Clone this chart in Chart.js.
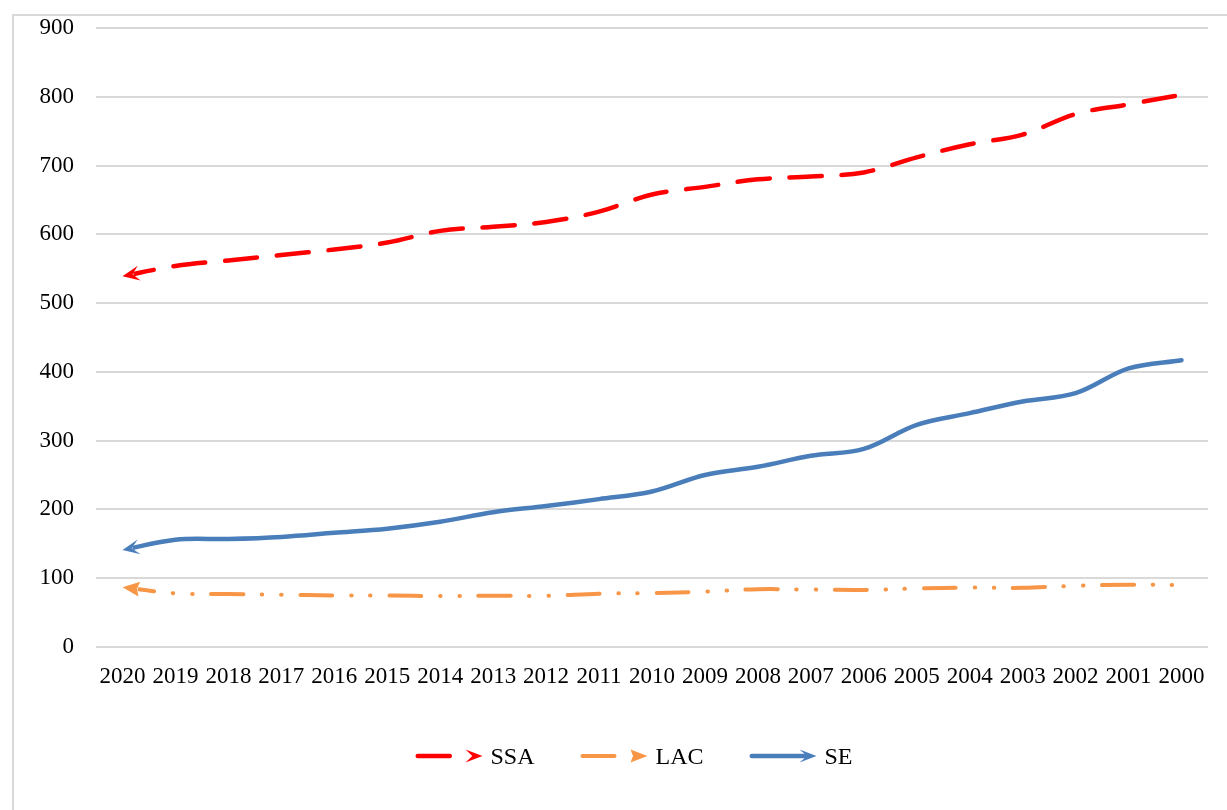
<!DOCTYPE html>
<html>
<head>
<meta charset="utf-8">
<script src="https://cdn.jsdelivr.net/npm/chart.js@4"></script>
<style>
  html, body { margin: 0; padding: 0; background: #ffffff; }
  #wrap { width: 1227px; height: 810px; position: relative; }
</style>
</head>
<body>
<div id="wrap"><canvas id="chart"></canvas></div>
<script>
// Years run from most recent to oldest, left to right
const years = ['2020','2019','2018','2017','2016','2015','2014','2013','2012','2011',
               '2010','2009','2008','2007','2006','2005','2004','2003','2002','2001','2000'];

const ssaValues = [539, 554, 562, 570, 578, 588, 605, 611, 618, 633,
                   658, 669, 680, 684, 690, 712, 731, 745, 775, 789, 803];

const lacValues = [87, 78, 77, 76, 75, 75, 74, 74.5, 74.5, 77.5,
                   78.5, 80.5, 84, 83.5, 83, 85, 86.5, 86, 89, 90.5, 90];

const seValues  = [141, 156, 157, 160, 166, 172, 182, 196, 205, 215,
                   226, 250, 262, 278, 288, 323, 340, 357, 369, 405, 417];

const yAxisTicks = { min: 0, max: 900, step: 100 };

const SERIF = "'Liberation Serif', 'Times New Roman', serif";

// Stealth-style arrowhead; tip at (0,0) pointing along +x after rotation
function arrowHead(ctx, x, y, angle, color, len, half, notch) {
  ctx.save();
  ctx.translate(x, y);
  ctx.rotate(angle);
  ctx.beginPath();
  ctx.moveTo(0, 0);
  ctx.lineTo(-len, -half);
  ctx.lineTo(-len * notch, 0);
  ctx.lineTo(-len, half);
  ctx.closePath();
  ctx.fillStyle = color;
  ctx.fill();
  ctx.restore();
}

function startGeometry(chart, i) {
  const meta = chart.getDatasetMeta(i);
  if (meta.hidden || meta.data.length < 2) return null;
  const p0 = meta.data[0];
  let cx = p0.cp2x, cy = p0.cp2y;
  if (cx === undefined || (Math.abs(cx - p0.x) < 0.01 && Math.abs(cy - p0.y) < 0.01)) {
    cx = meta.data[1].x; cy = meta.data[1].y;
  }
  return { x: p0.x, y: p0.y, angle: Math.atan2(p0.y - cy, p0.x - cx) };
}

// Arrowhead at the start of each line (the 2020 end); the stroke is held back
// behind the head so the head's tip sits on the first value
const startArrows = {
  id: 'startArrows',
  beforeDatasetDraw(chart, args) {
    const ds = chart.data.datasets[args.index];
    const g = startGeometry(chart, args.index);
    const ctx = chart.ctx;
    ctx.save();
    if (!g) return;
    ctx.beginPath();
    ctx.rect(0, 0, chart.width, chart.height);
    ctx.arc(g.x, g.y, ds.arrow.len * ds.arrow.notch + 1, 0, Math.PI * 2);
    ctx.clip('evenodd');
  },
  afterDatasetDraw(chart, args) {
    const ctx = chart.ctx;
    ctx.restore();
    const ds = chart.data.datasets[args.index];
    const g = startGeometry(chart, args.index);
    if (!g) return;
    const a = ds.arrow;
    arrowHead(ctx, g.x, g.y, g.angle, ds.borderColor, a.len, a.half, a.notch);
  }
};

// Legend row: line sample in the series style, arrowhead, label
const lineLegend = {
  id: 'lineLegend',
  afterDraw(chart, args, opts) {
    const ctx = chart.ctx;
    const sets = chart.data.datasets;
    ctx.save();
    ctx.font = opts.font;
    const iconW = opts.iconWidth, textGap = opts.textGap, itemGap = opts.itemGap;
    const widths = sets.map(ds => iconW + textGap + ctx.measureText(ds.label).width);
    const total = widths.reduce((s, w) => s + w, 0) + itemGap * (sets.length - 1);
    let x = opts.centerX - total / 2;
    const y = opts.y;
    sets.forEach((ds, i) => {
      const a = ds.arrow;
      const dashed = ds.borderDash && ds.borderDash.length;
      ctx.save();
      ctx.strokeStyle = ds.borderColor;
      ctx.lineWidth = ds.borderWidth;
      ctx.lineCap = 'round';
      ctx.setLineDash(ds.borderDash || []);
      ctx.beginPath();
      ctx.moveTo(x + ds.borderWidth / 2, y);
      ctx.lineTo(x + iconW - (dashed ? a.len : a.len * a.notch + ds.borderWidth / 2), y);
      ctx.stroke();
      ctx.restore();
      arrowHead(ctx, x + iconW, y, 0, ds.borderColor, a.len, a.legendHalf, a.notch);
      ctx.fillStyle = '#000000';
      ctx.textAlign = 'left';
      ctx.textBaseline = 'alphabetic';
      ctx.fillText(ds.label, x + iconW + textGap, opts.baseline);
      x += widths[i] + itemGap;
    });
    ctx.restore();
  }
};

// Light grey frame around the chart
const frame = {
  id: 'frame',
  beforeDraw(chart) {
    const ctx = chart.ctx;
    ctx.save();
    ctx.strokeStyle = '#d9d9d9';
    ctx.lineWidth = 2;
    ctx.strokeRect(13, 15, 1240, 820);
    ctx.restore();
  }
};

new Chart(document.getElementById('chart'), {
  type: 'line',
  data: {
    labels: years,
    datasets: [
      {
        label: 'SSA',
        data: ssaValues,
        borderColor: '#ff0000',
        borderWidth: 4.5,
        borderDash: [32, 20],
        borderCapStyle: 'round',
        arrow: { len: 17, half: 7.5, legendHalf: 6.5, notch: 0.6 }
      },
      {
        label: 'LAC',
        data: lacValues,
        borderColor: '#f79646',
        borderWidth: 4,
        borderDash: [32, 18.7, 0.5, 18.7, 0.5, 18.7],
        borderCapStyle: 'round',
        arrow: { len: 17, half: 7.5, legendHalf: 6.5, notch: 0.85 }
      },
      {
        label: 'SE',
        data: seValues,
        borderColor: '#4a7ebb',
        borderWidth: 4.5,
        borderCapStyle: 'round',
        arrow: { len: 17, half: 7.5, legendHalf: 6.5, notch: 0.55 }
      }
    ]
  },
  options: {
    responsive: true,
    maintainAspectRatio: false,
    devicePixelRatio: 1,
    animation: false,
    layout: { padding: { top: 28, right: 19, bottom: 0, left: 0 } },
    elements: {
      point: { radius: 0, hoverRadius: 0 },
      line: { tension: 0.35, fill: false, borderJoinStyle: 'round' }
    },
    plugins: {
      legend: { display: false },
      tooltip: { enabled: false },
      lineLegend: {
        font: '24px ' + SERIF,
        iconWidth: 67,
        textGap: 8,
        itemGap: 46,
        centerX: 634,
        y: 756,
        baseline: 764
      }
    },
    scales: {
      x: {
        type: 'category',
        offset: true,
        grid: { display: false },
        border: { display: false },
        ticks: {
          color: '#000000',
          font: { family: SERIF, size: 23 },
          maxRotation: 0,
          minRotation: 0,
          autoSkip: false,
          padding: 8
        },
        afterFit(scale) { scale.height = 163; scale.paddingTop = 0; scale.paddingBottom = 0; }
      },
      y: {
        min: yAxisTicks.min,
        max: yAxisTicks.max,
        grid: { color: '#d9d9d9', lineWidth: 2, drawTicks: false },
        border: { display: false },
        ticks: {
          stepSize: yAxisTicks.step,
          color: '#000000',
          font: { family: SERIF, size: 23 },
          padding: 22
        },
        afterFit(scale) { scale.width = 96; scale.paddingTop = 0; scale.paddingBottom = 0; }
      }
    }
  },
  plugins: [frame, startArrows, lineLegend]
});
</script>
</body>
</html>
